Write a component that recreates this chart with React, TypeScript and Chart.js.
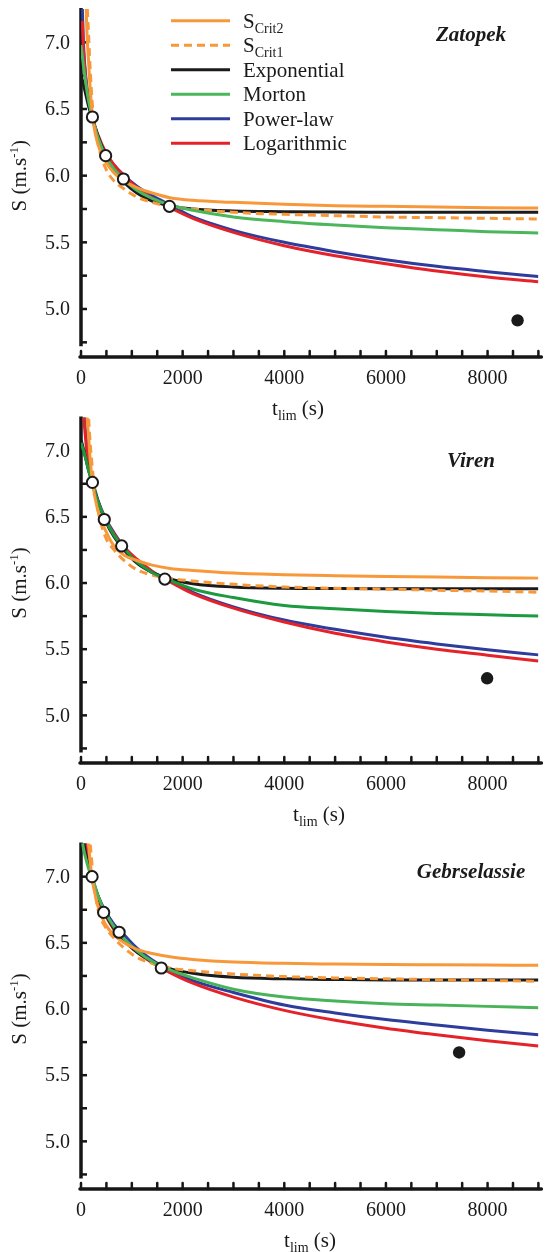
import React, { useEffect, useRef } from 'react';
import { Chart, registerables } from 'chart.js';

Chart.register(...registerables);

// ---------- data ----------
const T_LIM = [0, 25, 50, 100, 150, 220, 330, 480, 650, 850, 1100, 1400, 1750, 2200, 3000, 4000, 5000, 6000, 7000, 8000, 9000];

// Zatopek
const ZAT_SCRIT2 = [null, null, 8.8, 7.3, 6.85, 6.47, 6.24, 6.11, 6.02, 5.96, 5.91, 5.87, 5.835, 5.815, 5.8, 5.785, 5.775, 5.77, 5.765, 5.76, 5.757];
const ZAT_SCRIT1 = [null, null, 9.2, 7.6, 7.05, 6.55, 6.25, 6.06, 5.96, 5.9, 5.84, 5.8, 5.77, 5.75, 5.725, 5.71, 5.7, 5.69, 5.685, 5.68, 5.675];
const ZAT_EXP = [6.76, 6.72, 6.68, 6.6, 6.52, 6.43, 6.3, 6.16, 6.04, 5.95, 5.87, 5.81, 5.775, 5.75, 5.735, 5.73, 5.727, 5.726, 5.725, 5.725, 5.725];
const ZAT_MORTON = [6.98, 6.9, 6.82, 6.68, 6.56, 6.44, 6.29, 6.15, 6.05, 5.97, 5.89, 5.83, 5.78, 5.74, 5.69, 5.655, 5.63, 5.61, 5.595, 5.58, 5.57];
const ZAT_POWER = [null, 7.28, 6.98, 6.72, 6.58, 6.45, 6.3, 6.17, 6.08, 6.0, 5.92, 5.85, 5.78, 5.69, 5.59, 5.5, 5.43, 5.37, 5.32, 5.28, 5.243];
const ZAT_LOG = [null, 7.16, 6.93, 6.7, 6.57, 6.44, 6.31, 6.18, 6.08, 6.0, 5.91, 5.83, 5.76, 5.68, 5.575, 5.475, 5.4, 5.34, 5.285, 5.24, 5.205];
const ZAT_RACE_T = [225, 485, 835, 1740];
const ZAT_RACE_S = [6.44, 6.15, 5.975, 5.77];
const ZAT_MARATHON_T = [8590];
const ZAT_MARATHON_S = [4.915];

// Viren
const VIR_SCRIT2 = [null, null, 9.0, 7.5, 7.1, 6.78, 6.55, 6.4, 6.28, 6.21, 6.17, 6.135, 6.11, 6.095, 6.075, 6.062, 6.055, 6.05, 6.045, 6.04, 6.037];
const VIR_SCRIT1 = [null, null, 9.5, 7.75, 7.25, 6.88, 6.56, 6.35, 6.25, 6.17, 6.1, 6.06, 6.035, 6.015, 5.99, 5.97, 5.96, 5.955, 5.945, 5.94, 5.93];
const VIR_EXP = [7.08, 7.05, 7.01, 6.93, 6.85, 6.76, 6.62, 6.47, 6.35, 6.25, 6.15, 6.08, 6.03, 5.995, 5.97, 5.96, 5.958, 5.957, 5.957, 5.957, 5.957];
const VIR_MORTON = [7.06, 7.03, 7.0, 6.93, 6.85, 6.76, 6.62, 6.48, 6.36, 6.26, 6.16, 6.08, 6.02, 5.955, 5.89, 5.83, 5.805, 5.785, 5.77, 5.76, 5.75];
const VIR_POWER = [null, 7.7, 7.4, 7.1, 6.94, 6.79, 6.63, 6.49, 6.38, 6.27, 6.17, 6.08, 6.02, 5.93, 5.82, 5.72, 5.65, 5.59, 5.54, 5.495, 5.457];
const VIR_LOG = [null, 7.55, 7.3, 7.05, 6.9, 6.76, 6.62, 6.48, 6.37, 6.27, 6.18, 6.09, 6.01, 5.92, 5.81, 5.705, 5.62, 5.555, 5.5, 5.455, 5.41];
const VIR_RACE_T = [225, 458, 800, 1650];
const VIR_RACE_S = [6.76, 6.48, 6.28, 6.03];
const VIR_MARATHON_T = [7991];
const VIR_MARATHON_S = [5.28];

// Gebrselassie
const GEB_SCRIT2 = [null, null, 9.0, 7.7, 7.25, 6.99, 6.78, 6.64, 6.56, 6.5, 6.45, 6.42, 6.395, 6.375, 6.355, 6.345, 6.34, 6.336, 6.334, 6.332, 6.33];
const GEB_SCRIT1 = [null, null, 9.6, 8.0, 7.45, 7.08, 6.76, 6.62, 6.535, 6.46, 6.39, 6.345, 6.31, 6.29, 6.265, 6.245, 6.235, 6.228, 6.222, 6.216, 6.21];
const GEB_EXP = [7.4, 7.33, 7.27, 7.16, 7.08, 6.99, 6.86, 6.72, 6.61, 6.52, 6.43, 6.36, 6.305, 6.27, 6.24, 6.228, 6.223, 6.22, 6.22, 6.22, 6.22];
const GEB_MORTON = [7.32, 7.27, 7.21, 7.13, 7.06, 7.0, 6.86, 6.73, 6.62, 6.53, 6.44, 6.36, 6.295, 6.235, 6.15, 6.09, 6.06, 6.04, 6.03, 6.02, 6.01];
const GEB_POWER = [null, 7.7, 7.45, 7.2, 7.08, 6.98, 6.86, 6.74, 6.64, 6.56, 6.46, 6.37, 6.29, 6.215, 6.125, 6.03, 5.97, 5.92, 5.88, 5.84, 5.805];
const GEB_LOG = [null, 7.7, 7.47, 7.24, 7.1, 6.97, 6.83, 6.71, 6.6, 6.515, 6.43, 6.35, 6.275, 6.195, 6.09, 5.99, 5.915, 5.855, 5.805, 5.76, 5.72];
const GEB_RACE_T = [218, 446, 750, 1580];
const GEB_RACE_S = [7.0, 6.73, 6.58, 6.31];
const GEB_MARATHON_T = [7440];
const GEB_MARATHON_S = [5.672];

// axes
const X_TICKS = [0, 500, 1000, 1500, 2000, 2500, 3000, 3500, 4000, 4500, 5000, 5500, 6000, 6500, 7000, 7500, 8000, 8500, 9000];
const X_LABEL_VALUES = [0, 2000, 4000, 6000, 8000];
const X_LABELS = ['0', '2000', '4000', '6000', '8000'];
const Y_TICKS = [4.75, 5.0, 5.25, 5.5, 5.75, 6.0, 6.25, 6.5, 6.75, 7.0];
const Y_LABEL_VALUES = [5.0, 5.5, 6.0, 6.5, 7.0];
const Y_LABELS = ['5.0', '5.5', '6.0', '6.5', '7.0'];

const LEGEND_MAIN = ['S', 'S', 'Exponential', 'Morton', 'Power-law', 'Logarithmic'];
const LEGEND_SUB = ['Crit2', 'Crit1', '', '', '', ''];

// ---------- styling ----------
const FONT = '"Liberation Serif", "Times New Roman", serif';
const ORANGE = '#F7983A';
const BLACK = '#1B1B1B';
const BLUE = '#2E3C9C';
const RED = '#E5222A';

type Part = { t: string; size: number; dy?: number; style?: string };

function richWidth(ctx: CanvasRenderingContext2D, parts: Part[]) {
  let w = 0;
  for (const p of parts) {
    ctx.font = `${p.style || ''} ${p.size}px ${FONT}`;
    w += ctx.measureText(p.t).width;
  }
  return w;
}

function drawRich(ctx: CanvasRenderingContext2D, parts: Part[], x: number, baseline: number, align: 'left' | 'center' | 'right') {
  const w = richWidth(ctx, parts);
  let cx = align === 'left' ? x : align === 'center' ? x - w / 2 : x - w;
  ctx.textAlign = 'left';
  ctx.textBaseline = 'alphabetic';
  for (const p of parts) {
    ctx.font = `${p.style || ''} ${p.size}px ${FONT}`;
    ctx.fillText(p.t, cx, baseline + (p.dy || 0));
    cx += ctx.measureText(p.t).width;
  }
}

const xy = (xs: number[], ys: (number | null)[]) => xs.map((x, i) => ({ x, y: ys[i] }));

type PanelCfg = {
  name: string;
  top: number;
  height: number;
  padTop: number;
  padBottom: number;
  nameY: number;
  xTitleX: number;
  legend: boolean;
  green: string;
  scrit2: (number | null)[];
  scrit1: (number | null)[];
  exp: (number | null)[];
  morton: (number | null)[];
  power: (number | null)[];
  log: (number | null)[];
  raceT: number[];
  raceS: number[];
  marT: number[];
  marS: number[];
};

const PANELS: PanelCfg[] = [
  {
    name: 'Zatopek', top: 0, height: 430, padTop: 9, padBottom: 73, nameY: 36, xTitleX: 298, legend: true, green: '#4BB65A',
    scrit2: ZAT_SCRIT2, scrit1: ZAT_SCRIT1, exp: ZAT_EXP, morton: ZAT_MORTON, power: ZAT_POWER, log: ZAT_LOG,
    raceT: ZAT_RACE_T, raceS: ZAT_RACE_S, marT: ZAT_MARATHON_T, marS: ZAT_MARATHON_S,
  },
  {
    name: 'Viren', top: 410, height: 436, padTop: 6, padBottom: 83, nameY: 462 - 410, xTitleX: 319, legend: false, green: '#1D9A3F',
    scrit2: VIR_SCRIT2, scrit1: VIR_SCRIT1, exp: VIR_EXP, morton: VIR_MORTON, power: VIR_POWER, log: VIR_LOG,
    raceT: VIR_RACE_T, raceS: VIR_RACE_S, marT: VIR_MARATHON_T, marS: VIR_MARATHON_S,
  },
  {
    name: 'Gebrselassie', top: 836, height: 416, padTop: 5, padBottom: 63, nameY: 873 - 836, xTitleX: 310, legend: false, green: '#49B35A',
    scrit2: GEB_SCRIT2, scrit1: GEB_SCRIT1, exp: GEB_EXP, morton: GEB_MORTON, power: GEB_POWER, log: GEB_LOG,
    raceT: GEB_RACE_T, raceS: GEB_RACE_S, marT: GEB_MARATHON_T, marS: GEB_MARATHON_S,
  },
];

function makeDecor(cfg: PanelCfg) {
  return {
    id: 'decor',
    beforeDatasetsDraw(chart: any) {
      const { ctx, chartArea: ca, scales } = chart;
      const xs = scales.x, ys = scales.y;
      const ax = xs.getPixelForValue(0);
      ctx.save();
      ctx.strokeStyle = '#161616';
      // y axis
      ctx.lineWidth = 3.5;
      ctx.lineCap = 'butt';
      ctx.beginPath();
      ctx.moveTo(ax, ca.top - 1);
      ctx.lineTo(ax, ys.getPixelForValue(4.72));
      ctx.stroke();
      ctx.lineWidth = 2.5;
      for (const v of Y_TICKS) {
        const py = ys.getPixelForValue(v);
        ctx.beginPath();
        ctx.moveTo(ax, py);
        ctx.lineTo(ax + 6, py);
        ctx.stroke();
      }
      // x axis
      const by = ca.bottom;
      ctx.lineWidth = 3.5;
      ctx.lineCap = 'round';
      ctx.beginPath();
      ctx.moveTo(ax - 1, by);
      ctx.lineTo(ca.right + 3, by);
      ctx.stroke();
      ctx.lineWidth = 2.5;
      for (const v of X_TICKS) {
        const px = xs.getPixelForValue(v);
        ctx.beginPath();
        ctx.moveTo(px, by);
        ctx.lineTo(px, by - 6);
        ctx.stroke();
      }
      ctx.restore();
    },
    afterDraw(chart: any) {
      const { ctx, chartArea: ca, scales } = chart;
      const xs = scales.x, ys = scales.y;
      const ax = xs.getPixelForValue(0);
      ctx.save();
      ctx.fillStyle = '#1a1a1a';
      // y tick labels
      ctx.font = `20px ${FONT}`;
      ctx.textAlign = 'right';
      ctx.textBaseline = 'middle';
      Y_LABEL_VALUES.forEach((v, i) => {
        ctx.fillText(Y_LABELS[i], ax - 11, ys.getPixelForValue(v) + 1);
      });
      // x tick labels
      ctx.textAlign = 'center';
      X_LABEL_VALUES.forEach((v, i) => {
        ctx.fillText(X_LABELS[i], xs.getPixelForValue(v), ca.bottom + 22);
      });
      // x title
      drawRich(ctx, [
        { t: 't', size: 21 },
        { t: 'lim', size: 14, dy: 5 },
        { t: ' (s)', size: 21 },
      ], cfg.xTitleX, ca.bottom + 58, 'center');
      // y title (rotated)
      ctx.save();
      ctx.translate(26, ys.getPixelForValue(6.0));
      ctx.rotate(-Math.PI / 2);
      drawRich(ctx, [
        { t: 'S (m.s', size: 21 },
        { t: '-1', size: 13, dy: -8 },
        { t: ')', size: 21 },
      ], 0, 0, 'center');
      ctx.restore();
      // panel name
      ctx.font = `italic bold 21px ${FONT}`;
      ctx.textAlign = 'center';
      ctx.textBaseline = 'middle';
      ctx.fillText(cfg.name, 471, cfg.nameY);
      // legend
      if (cfg.legend) {
        const ds = chart.data.datasets.filter((d: any) => d.legendIndex !== undefined)
          .sort((a: any, b: any) => a.legendIndex - b.legendIndex);
        ds.forEach((d: any, i: number) => {
          const y = 20.7 + i * 24.5;
          ctx.save();
          ctx.strokeStyle = d.borderColor;
          ctx.lineWidth = 3;
          ctx.setLineDash(d.borderDash || []);
          ctx.beginPath();
          ctx.moveTo(171, y);
          ctx.lineTo(230, y);
          ctx.stroke();
          ctx.restore();
          ctx.fillStyle = '#1a1a1a';
          const parts: Part[] = [{ t: LEGEND_MAIN[i], size: 21 }];
          if (LEGEND_SUB[i]) parts.push({ t: LEGEND_SUB[i], size: 14, dy: 5 });
          drawRich(ctx, parts, 243, y + 7, 'left');
        });
      }
      ctx.restore();
    },
  };
}

function Panel({ cfg }: { cfg: PanelCfg }) {
  const ref = useRef<HTMLCanvasElement>(null);
  useEffect(() => {
    const line = (label: string, vals: (number | null)[], color: string, order: number, legendIndex: number, dash?: number[]) => ({
      label,
      data: xy(T_LIM, vals),
      borderColor: color,
      backgroundColor: color,
      borderWidth: 3,
      borderDash: dash || [],
      pointRadius: 0,
      fill: false,
      cubicInterpolationMode: 'monotone',
      order,
      legendIndex,
    });
    const chart = new Chart(ref.current as HTMLCanvasElement, {
      type: 'line',
      data: {
        datasets: [
          {
            label: 'Races',
            data: xy(cfg.raceT, cfg.raceS),
            showLine: false,
            pointRadius: 5.6,
            pointBorderWidth: 2,
            pointBackgroundColor: '#ffffff',
            pointBorderColor: '#1a1a1a',
            order: 0,
            clip: false,
          } as any,
          {
            label: 'Marathon',
            data: xy(cfg.marT, cfg.marS),
            showLine: false,
            pointRadius: 6.2,
            pointBorderWidth: 0,
            pointBackgroundColor: '#1a1a1a',
            pointBorderColor: '#1a1a1a',
            order: 1,
          } as any,
          line('SCrit2', cfg.scrit2, ORANGE, 2, 0),
          line('Morton', cfg.morton, cfg.green, 3, 3),
          line('SCrit1', cfg.scrit1, ORANGE, 4, 1, [8, 5]),
          line('Exponential', cfg.exp, BLACK, 5, 2),
          line('Logarithmic', cfg.log, RED, 6, 5),
          line('Power-law', cfg.power, BLUE, 7, 4),
        ] as any,
      },
      options: {
        responsive: false,
        animation: false,
        events: [],
        layout: { padding: { left: 81, right: 1, top: cfg.padTop, bottom: cfg.padBottom } },
        plugins: { legend: { display: false }, tooltip: { enabled: false }, title: { display: false } },
        scales: {
          x: { type: 'linear', min: 0, max: 9000, display: false },
          y: { type: 'linear', min: 4.64, max: 7.25, display: false },
        },
      },
      plugins: [makeDecor(cfg)],
    } as any);
    return () => chart.destroy();
  }, [cfg]);
  return (
    <canvas
      ref={ref}
      width={546}
      height={cfg.height}
      style={{ position: 'absolute', left: 0, top: cfg.top, width: 546, height: cfg.height, display: 'block' }}
    />
  );
}

export default function App() {
  return (
    <div style={{ position: 'absolute', left: 0, top: 0, width: 546, height: 1252, background: '#ffffff', overflow: 'hidden' }}>
      {PANELS.map((p) => (
        <Panel key={p.name} cfg={p} />
      ))}
    </div>
  );
}
